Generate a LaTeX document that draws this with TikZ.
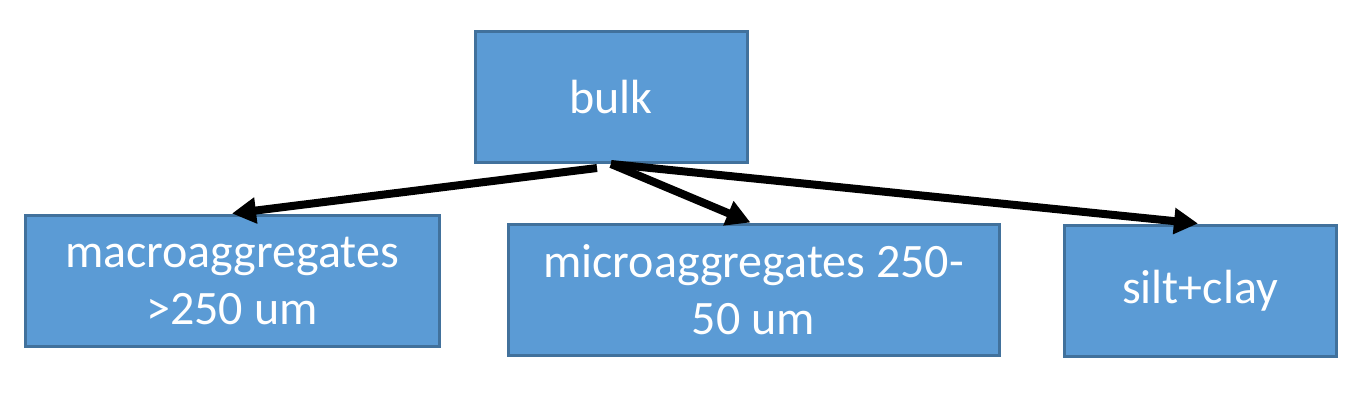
\documentclass[tikz,border=0pt]{standalone}
\usepackage{fontspec}
\setmainfont{Carlito}
\usetikzlibrary{arrows.meta}
\definecolor{boxblue}{HTML}{5B9BD5}
\definecolor{boxedge}{HTML}{41719C}
\begin{document}
\begin{tikzpicture}[x=1pt, y=-1pt,
  main/.style = {draw=boxedge, fill=boxblue, line width=3pt, text=white,
    font=\fontsize{48}{57}\selectfont, align=center, minimum height=131pt, inner sep=0pt},
  link/.style = {line width=8pt, -{Triangle[length=24pt,width=25pt]}}]
\useasboundingbox (0,0) rectangle (1365,405);
%\node[parameter] (nodeID) at (x,y) {label};
\node[main, minimum width=272pt] (bulk) at (611,97) {bulk};
\node[main, minimum width=414pt] (macro) at (232,280.5) {macroaggregates\\>250 um};
\node[main, minimum width=491pt] (micro) at (753.5,289.5) {microaggregates 250-\\50 um};
\node[main, minimum width=272pt] (silt) at (1200,290.5) {silt+clay};
\draw[link] ([xshift=-14pt,yshift=-4pt]bulk.south) -- (macro.north);
\draw[link] (bulk.south) -- ([xshift=-3pt]micro.north);
\draw[link] (bulk.south) -- ([xshift=-2pt]silt.north);
\end{tikzpicture}
\end{document}
